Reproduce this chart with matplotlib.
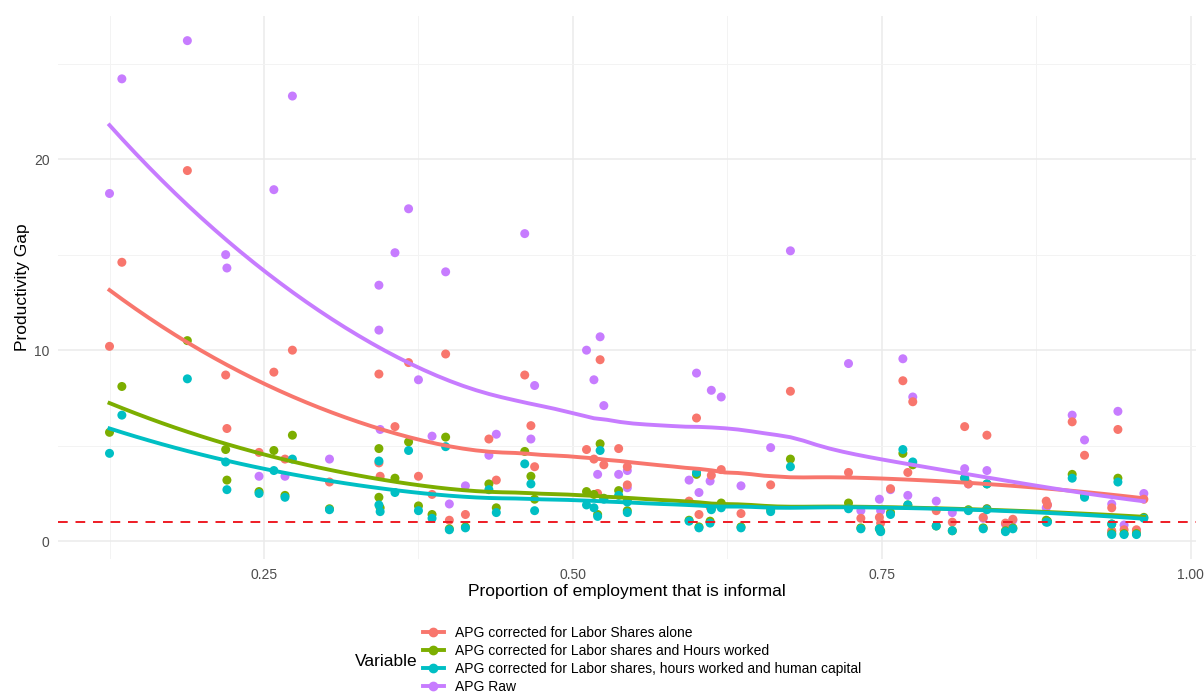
import numpy as np
import matplotlib
matplotlib.use('Agg')
import matplotlib.pyplot as plt
from matplotlib.lines import Line2D

plt.rcParams['font.family'] = ['Liberation Sans', 'DejaVu Sans']

nan = np.nan

# proportion of employment that is informal (one entry per country)
informal = [0.125, 0.135, 0.188, 0.219, 0.220, 0.246, 0.258, 0.267, 0.273, 0.303,
            0.343, 0.343, 0.344, 0.356, 0.367, 0.375, 0.386, 0.397, 0.400, 0.413,
            0.432, 0.438, 0.461, 0.466, 0.469, 0.511, 0.517, 0.520, 0.522, 0.525,
            0.537, 0.544, 0.544, 0.594, 0.600, 0.602, 0.611, 0.612, 0.620, 0.636,
            0.660, 0.676, 0.723, 0.733, 0.748, 0.749, 0.757, 0.767, 0.771, 0.775,
            0.794, 0.807, 0.817, 0.820, 0.835, 0.832, 0.835, 0.850, 0.856, 0.883,
            0.884, 0.904, 0.914, 0.936, 0.936, 0.941, 0.946, 0.956, 0.962]

apg_labor = [10.2, 14.6, 19.4, 8.7, 5.9, 4.65, 8.85, 4.3, 10.0, 3.1,
             8.75, 4.1, 3.4, 6.0, 9.35, 3.4, 2.45, 9.8, 1.1, 1.4,
             5.35, 3.2, 8.7, 6.05, 3.9, 4.8, 4.3, 2.5, 9.5, 4.0,
             4.85, 3.9, 2.95, 2.1, 6.45, 1.4, 1.8, 3.45, 3.75, 1.45,
             2.95, 7.85, 3.6, 1.2, 1.25, 0.95, 2.75, 8.4, 3.6, 7.3,
             1.6, 1.0, 6.0, 3.0, 5.55, 1.25, nan, 0.95, 1.15, 2.1,
             1.9, 6.25, 4.5, 1.75, 0.55, 5.85, 0.6, 0.6, 2.2]

apg_labor_hours = [5.7, 8.1, 10.5, 4.8, 3.2, 2.6, 4.75, 2.4, 5.55, 1.7,
                   4.85, 2.3, 1.75, 3.3, 5.2, 1.85, 1.4, 5.45, 0.65, 0.75,
                   3.0, 1.75, 4.7, 3.4, 2.2, 2.6, 2.45, 1.4, 5.1, 2.25,
                   2.65, 2.1, 1.6, 1.1, 3.5, 0.75, 1.05, 1.7, 2.0, 0.75,
                   1.65, 4.3, 2.0, 0.7, 0.65, 0.55, 1.5, 4.6, 1.9, 4.0,
                   0.8, 0.55, 3.3, 1.65, 3.0, 0.7, 1.7, 0.55, 0.7, 1.1,
                   1.05, 3.5, 2.4, 0.9, 0.4, 3.3, 0.4, 0.4, 1.25]

apg_labor_hours_hc = [4.6, 6.6, 8.5, 4.15, 2.7, 2.5, 3.7, 2.3, 4.3, 1.65,
                      4.2, 1.9, 1.55, 2.55, 4.75, 1.6, 1.2, 4.95, 0.6, 0.7,
                      2.7, 1.5, 4.05, 3.0, 1.6, 1.9, 1.75, 1.3, 4.75, 2.2,
                      2.4, 2.05, 1.5, 1.05, 3.6, 0.7, 0.95, 1.65, 1.75, 0.7,
                      1.55, 3.9, 1.7, 0.65, 0.65, 0.5, 1.4, 4.8, 1.9, 4.15,
                      0.8, 0.55, 3.3, 1.6, 3.0, 0.65, 1.65, 0.5, 0.65, 1.0,
                      1.0, 3.3, 2.3, 0.9, 0.35, 3.1, 0.35, 0.35, 1.2]

apg_raw = [18.2, 24.2, 26.2, 15.0, 14.3, 3.4, 18.4, 3.4, 23.3, 4.3,
           13.4, 11.05, 5.85, 15.1, 17.4, 8.45, 5.5, 14.1, 1.95, 2.9,
           4.5, 5.6, 16.1, 5.35, 8.15, 10.0, 8.45, 3.5, 10.7, 7.1,
           3.5, 3.7, 2.8, 3.2, 8.8, 2.55, 3.15, 7.9, 7.55, 2.9,
           4.9, 15.2, 9.3, 1.6, 2.2, 1.6, 2.7, 9.55, 2.4, 7.55,
           2.1, 1.5, 3.8, 3.0, 3.7, 1.2, 1.7, 0.9, 1.1, 1.75,
           1.9, 6.6, 5.3, 1.95, 0.5, 6.8, 0.85, 0.55, 2.5]

labels = ['APG corrected for Labor Shares alone',
          'APG corrected for Labor shares and Hours worked',
          'APG corrected for Labor shares, hours worked and human capital',
          'APG Raw']
colors = ['#F8766D', '#7CAE00', '#00BFC4', '#C77CFF']
series = [apg_labor, apg_labor_hours, apg_labor_hours_hc, apg_raw]
# raw points sit underneath the corrected ones
point_z = [3.3, 3.4, 3.5, 3.1]


def loess(x, y, xs, span=0.75):
    # local quadratic fit with tricube weights, like R's loess default
    n = len(x)
    q = int(np.floor(n * span))
    out = []
    for x0 in xs:
        d = np.abs(x - x0)
        h = np.sort(d)[q - 1]
        w = np.clip(1 - (d / h) ** 3, 0, None) ** 3
        c = np.polyfit(x, y, 2, w=np.sqrt(w))
        out.append(np.polyval(c, x0))
    return np.array(out)


fig = plt.figure(figsize=(12.04, 6.93), dpi=100)
ax = fig.add_axes([0.048, 0.193, 0.945, 0.784])

xall = np.array(informal)
for vals, col, z in zip(series, colors, point_z):
    y = np.array(vals, dtype=float)
    ok = ~np.isnan(y)
    ax.scatter(xall[ok], y[ok], s=42, color=col, edgecolors='none', zorder=z)

for vals, col in zip(series, colors):
    y = np.array(vals, dtype=float)
    ok = ~np.isnan(y)
    xs = np.linspace(xall[ok].min(), xall[ok].max(), 80)
    ax.plot(xs, loess(xall[ok], y[ok], xs), color=col, lw=2.8, zorder=4)

ax.axhline(1, color='#EE1C25', lw=1.4, ls=(0, (5, 4)), zorder=5)

# ggplot-style 5% expansion
allv = np.concatenate([np.array(s, dtype=float) for s in series])
ylo, yhi = np.nanmin(allv), np.nanmax(allv)
ax.set_ylim(ylo - 0.05 * (yhi - ylo), yhi + 0.05 * (yhi - ylo))
xlo, xhi = xall.min(), xall.max()
ax.set_xlim(xlo - 0.05 * (xhi - xlo), xhi + 0.05 * (xhi - xlo))

ax.set_xticks([0.25, 0.5, 0.75, 1.0])
ax.set_xticklabels(['0.25', '0.50', '0.75', '1.00'])
ax.set_yticks([0, 10, 20])
ax.set_xticks([0.125, 0.375, 0.625, 0.875], minor=True)
ax.set_yticks([5, 15, 25], minor=True)
ax.grid(True, which='major', color='#EBEBEB', lw=1.1)
ax.grid(True, which='minor', color='#F3F3F3', lw=0.7)
ax.set_axisbelow(True)
ax.tick_params(which='both', length=0, labelsize=10, colors='#4D4D4D', pad=6)
for s in ax.spines.values():
    s.set_visible(False)

ax.set_xlabel('Proportion of employment that is informal', fontsize=12.5, labelpad=2)
ax.set_ylabel('Productivity Gap', fontsize=12.5, labelpad=3)

handles = [Line2D([], [], color=c, lw=2.8, marker='o', markersize=6) for c in colors]
fig.legend(handles, labels, loc='center left', bbox_to_anchor=(423 / 1204, 1 - 660 / 693),
           frameon=False, fontsize=10, handlelength=1.5, handletextpad=0.8,
           labelspacing=0.3, borderpad=0, borderaxespad=0)
fig.text(355 / 1204, 1 - 661 / 693, 'Variable', fontsize=12.5, va='center', ha='left')

fig.savefig('out.png', dpi=100)
